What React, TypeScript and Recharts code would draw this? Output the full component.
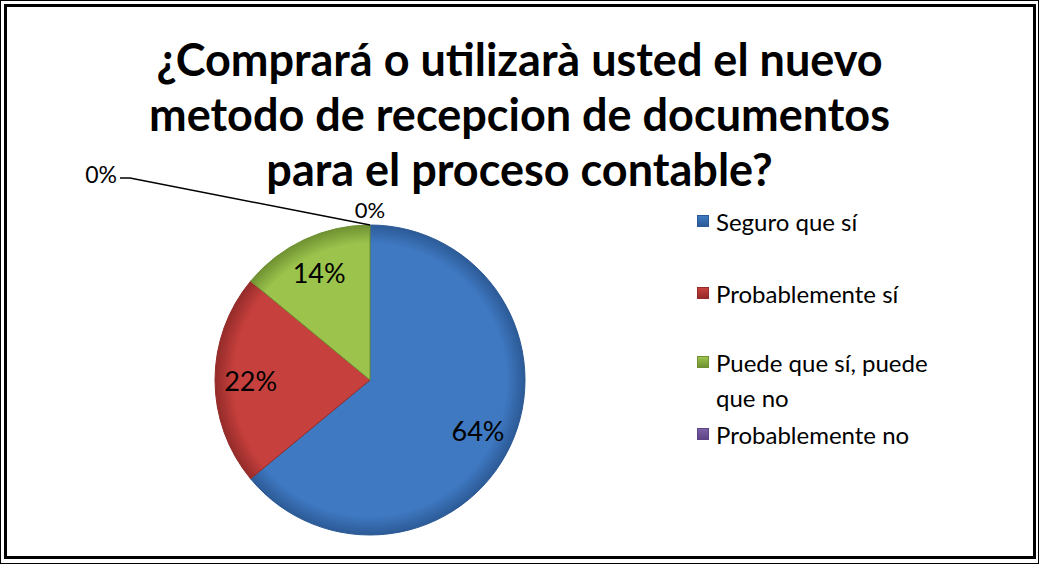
import { PieChart, Pie, Cell, Legend } from "recharts";

const categories = [
  "Seguro que sí",
  "Probablemente sí",
  "Puede que sí, puede que no",
  "Probablemente no",
  "Seguro que no",
];
const percents = [64, 22, 14, 0, 0];
const legendNames = categories.slice(0, 4);
const colors = ["#3f79c2", "#c6403d", "#9cc34c", "#7c5fa6", "#46a9c4"];
const edges = ["#2c5a96", "#942b29", "#6f9132", "#5d4585", "#2f8aa3"];
const title = [
  "¿Comprará o utilizarà usted el nuevo",
  "metodo de recepcion de documentos",
  "para el proceso contable?",
];

const data = categories.map((name, i) => ({ name, value: percents[i] }));

const FONT = "Lato, 'Open Sans', sans-serif";
const RAD = Math.PI / 180;

const renderLabel = (props: any) => {
  const { cx, cy, midAngle, outerRadius, value, index } = props;
  const cos = Math.cos(-midAngle * RAD);
  const sin = Math.sin(-midAngle * RAD);
  const txt = value + "%";
  if (value > 0) {
    const r = outerRadius * 0.77;
    return (
      <text x={cx + r * cos} y={cy + r * sin} textAnchor="middle" dominantBaseline="central"
        fontFamily={FONT} fontSize={27} fill="#000">{txt}</text>
    );
  }
  if (index === 3) {
    const r = outerRadius + 16;
    return (
      <text x={cx + r * cos} y={cy + r * sin} textAnchor="middle" dominantBaseline="central"
        fontFamily={FONT} fontSize={22} fill="#000">{txt}</text>
    );
  }
  // last zero slice: pulled out with a leader line to the upper left
  const sx = cx + outerRadius * cos;
  const sy = cy + outerRadius * sin;
  const ex = sx - 240;
  const ey = sy - 47;
  return (
    <g>
      <polyline points={`${sx},${sy} ${ex},${ey} ${ex - 10},${ey}`} fill="none" stroke="#000" strokeWidth={1.5} />
      <text x={ex - 13} y={ey - 4} textAnchor="end" dominantBaseline="central"
        fontFamily={FONT} fontSize={23} fill="#000">{txt}</text>
    </g>
  );
};

const legendTops = [221, 293, 362, 434];

const renderLegend = () => (
  <div style={{ position: "relative", width: 300, height: 260 }}>
    {legendNames.map((name, i) => (
      <div key={name} style={{ position: "absolute", left: 0, top: legendTops[i] - 221, display: "flex", alignItems: "flex-start" }}>
        <div style={{
          width: 12, height: 12, marginTop: 11, marginRight: 7,
          background: `linear-gradient(180deg, ${colors[i]} 0%, ${edges[i]} 100%)`,
          border: `1px solid ${edges[i]}`, boxSizing: "border-box",
        }} />
        <div style={{ width: 228, fontFamily: FONT, fontSize: 24, lineHeight: "35px", color: "#000" }}>{name}</div>
      </div>
    ))}
  </div>
);

export default function App() {
  return (
    <div style={{ position: "fixed", left: 0, top: 0, width: 1039, height: 564, background: "#fff" }}>
      <div style={{ position: "absolute", left: 0, top: 0, width: 1037, height: 562, border: "1px solid #000" }} />
      <div style={{ position: "absolute", left: 4, top: 4, width: 1026, height: 549, border: "3px solid #000" }} />
      <div style={{
        position: "absolute", left: 0, top: 40, width: 1039, textAlign: "center",
        fontFamily: FONT, fontWeight: 700, fontSize: 45, lineHeight: "38px", color: "#000",
      }}>
        {title.map((t) => <div key={t} style={{ marginBottom: 17 }}>{t}</div>)}
      </div>
      <div style={{ position: "absolute", left: 0, top: 0 }}>
        <PieChart width={1039} height={564} margin={{ top: 0, right: 0, bottom: 0, left: 0 }}>
          <defs>
            {colors.map((c, i) => (
              <radialGradient key={c} id={`slice${i}`} cx={370} cy={380} r={155} gradientUnits="userSpaceOnUse">
                <stop offset="0%" stopColor={c} />
                <stop offset="88%" stopColor={c} />
                <stop offset="100%" stopColor={edges[i]} />
              </radialGradient>
            ))}
          </defs>
          <Pie
            data={data}
            dataKey="value"
            nameKey="name"
            cx={370}
            cy={380}
            outerRadius={155}
            startAngle={90}
            endAngle={-270}
            label={renderLabel}
            labelLine={false}
            isAnimationActive={false}
          >
            {data.map((d, i) => (
              <Cell key={d.name} fill={`url(#slice${i})`} stroke={edges[i]} strokeWidth={1} />
            ))}
          </Pie>
          <Legend
            layout="vertical"
            content={renderLegend}
            wrapperStyle={{ position: "absolute", left: 697, top: 204, width: 300 }}
          />
        </PieChart>
      </div>
    </div>
  );
}
